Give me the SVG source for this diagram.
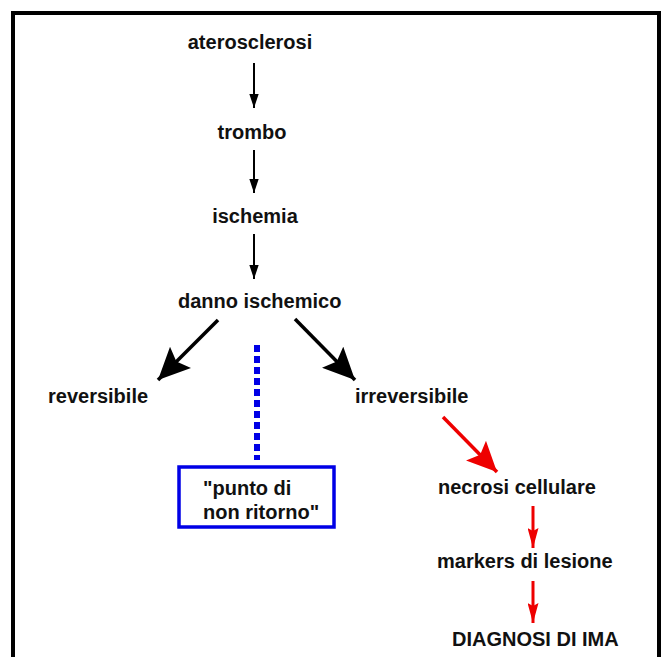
<svg xmlns="http://www.w3.org/2000/svg" width="665" height="657" viewBox="0 0 665 657">
<style>
  text { font-family: "Liberation Sans", Arial, sans-serif; font-weight: bold; font-size: 20px; fill: #111; }
  .blk { stroke: #000; stroke-width: 2; fill: none; }
  .blkThick { stroke: #000; stroke-width: 3.5; fill: none; }
  .red { stroke: #ee0000; stroke-width: 3; fill: none; }
  .redThick { stroke: #ee0000; stroke-width: 3.5; fill: none; }
</style>
<defs>
  <marker id="hBlk" markerUnits="userSpaceOnUse" markerWidth="14" markerHeight="20" refX="18" refY="6" viewBox="0 0 18 12" orient="auto">
    <path d="M0,0 L18,6 L0,12 Z" fill="#000"/>
  </marker>
  <marker id="hBlkBig" markerUnits="userSpaceOnUse" markerWidth="32" markerHeight="30" refX="32" refY="15" viewBox="0 0 32 30" orient="auto">
    <path d="M0,0 L32,15 L0,30 L6,15 Z" fill="#000"/>
  </marker>
  <marker id="hRedBig" markerUnits="userSpaceOnUse" markerWidth="30" markerHeight="28" refX="30" refY="14" viewBox="0 0 30 28" orient="auto">
    <path d="M0,0 L30,14 L0,28 L6,14 Z" fill="#ee0000"/>
  </marker>
  <marker id="hRed" markerUnits="userSpaceOnUse" markerWidth="20" markerHeight="11" refX="20" refY="5.5" viewBox="0 0 20 11" orient="auto">
    <path d="M0,0 L20,5.5 L0,11 L3,5.5 Z" fill="#ee0000"/>
  </marker>
</defs>
<rect width="665" height="657" fill="#fff"/>
<path d="M13,662 V13 H659 V662" fill="none" stroke="#000" stroke-width="4"/>

<g id="connectors">
  <line class="blk" x1="254" y1="63" x2="254" y2="108" marker-end="url(#hBlk)"/>
  <line class="blk" x1="254" y1="150" x2="254" y2="193" marker-end="url(#hBlk)"/>
  <line class="blk" x1="254" y1="234" x2="254" y2="279" marker-end="url(#hBlk)"/>
  <line class="blkThick" x1="218" y1="320" x2="158" y2="380" marker-end="url(#hBlkBig)"/>
  <line class="blkThick" x1="295" y1="319" x2="355" y2="380" marker-end="url(#hBlkBig)"/>
  <line x1="257" y1="345" x2="257" y2="460" stroke="#0000e6" stroke-width="6" stroke-dasharray="7 4"/>
  <line class="redThick" x1="443" y1="417" x2="497" y2="472" marker-end="url(#hRedBig)"/>
  <line class="red" x1="533" y1="506" x2="533" y2="548" marker-end="url(#hRed)"/>
  <line class="red" x1="533" y1="581" x2="533" y2="623" marker-end="url(#hRed)"/>
</g>

<g id="aterosclerosi"><text x="250" y="49" text-anchor="middle">aterosclerosi</text></g>
<g id="trombo"><text x="252" y="139" text-anchor="middle">trombo</text></g>
<g id="ischemia"><text x="255" y="223" text-anchor="middle">ischemia</text></g>
<g id="danno"><text x="178" y="308">danno ischemico</text></g>
<g id="reversibile"><text x="48" y="403">reversibile</text></g>
<g id="irreversibile"><text x="355" y="403">irreversibile</text></g>
<g id="punto">
  <rect x="179" y="467" width="155" height="60" fill="none" stroke="#0000e6" stroke-width="3.5"/>
  <text x="203" y="495">"punto di</text>
  <text x="203" y="519">non ritorno"</text>
</g>
<g id="necrosi"><text x="438" y="494">necrosi cellulare</text></g>
<g id="markers"><text x="437" y="568">markers di lesione</text></g>
<g id="diagnosi"><text x="452" y="646">DIAGNOSI DI IMA</text></g>
</svg>
